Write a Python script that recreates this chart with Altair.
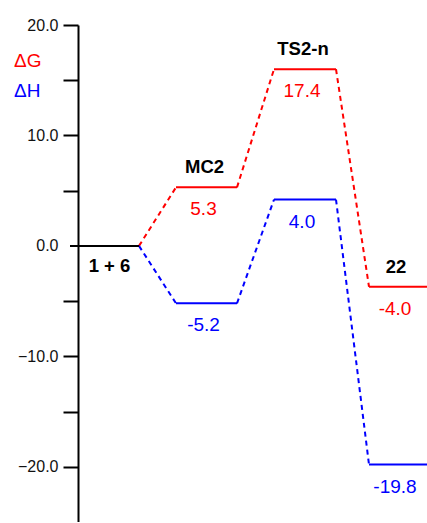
import altair as alt
import pandas as pd

# Reaction-profile data
species = ["1 + 6", "MC2", "TS2-n", "22"]
x_start = [-0.8, 9.8, 19.6, 29.1]     # reaction-coordinate extent of each level
x_end = [6.1, 15.9, 25.8, 34.9]
dG_level = [0.0, 5.3, 16.0, -3.7]     # level heights as drawn
dH_level = [0.0, -5.2, 4.2, -19.8]
dG_text = ["", "5.3", "17.4", "-4.0"]  # printed values
dH_text = ["", "-5.2", "4.0", "-19.8"]
y_ticks = [-20, -15, -10, -5, 0, 5, 10, 15, 20]

RED = "#ff0000"
BLUE = "#0000ff"
FONT = "Liberation Sans"

levels = []
conns = []
labels = []
for name, vals, txt in [("dG", dG_level, dG_text), ("dH", dH_level, dH_text)]:
    for i in range(1, len(species)):
        levels.append({"s": name, "x": x_start[i], "x2": x_end[i], "y": vals[i]})
        labels.append({"s": name, "xc": (x_start[i] + x_end[i]) / 2, "y": vals[i], "t": txt[i]})
    for i in range(len(species) - 1):
        conns.append({"s": name, "x": x_end[i], "x2": x_start[i + 1], "y": vals[i], "y2": vals[i + 1]})
lev = pd.DataFrame(levels)
con = pd.DataFrame(conns)
lab = pd.DataFrame(labels)
ref = pd.DataFrame({"x": [x_start[0]], "x2": [x_end[0]], "y": [dG_level[0]],
                    "xc": [(x_start[0] + x_end[0]) / 2], "t": [species[0]]})
names = pd.DataFrame({"xc": [(x_start[i] + x_end[i]) / 2 for i in range(1, 4)],
                      "y": dG_level[1:], "t": species[1:]})

xs = alt.Scale(domain=[0, 34.9], nice=False, zero=False)
ys = alt.Scale(domain=[-25, 20], nice=False, zero=False)
color = alt.Color("s:N", scale=alt.Scale(domain=["dG", "dH"], range=[RED, BLUE]), legend=None)

yaxis = alt.Axis(
    values=y_ticks,
    labelExpr="datum.value % 10 === 0 ? format(datum.value, '.1f') : ''",
    tickSize=15, tickWidth=2, domainWidth=2, domainColor="black",
    tickColor={"condition": {"test": "datum.value === 0", "value": "transparent"}, "value": "black"},
    labelFontSize=16, labelFont=FONT, labelColor="#111", labelPadding=5,
    grid=False, title=None,
)

X = lambda f: alt.X(f, type="quantitative", scale=xs, axis=None)
Y = lambda f, ax=None: alt.Y(f, type="quantitative", scale=ys, axis=ax)

conn_layer = alt.Chart(con).mark_rule(strokeWidth=2, strokeDash=[5, 4]).encode(
    x=X("x"), x2="x2", y=Y("y", yaxis), y2="y2", color=color)
lev_layer = alt.Chart(lev).mark_rule(strokeWidth=2).encode(
    x=X("x"), x2="x2", y=Y("y"), color=color)
ref_layer = alt.Chart(ref).mark_rule(strokeWidth=2, color="black").encode(
    x=X("x"), x2="x2", y=Y("y"))
val_layer = alt.Chart(lab).mark_text(font=FONT, fontSize=19, baseline="alphabetic", dy=28, dx=-3).encode(
    x=X("xc"), y=Y("y"), text="t:N", color=color)
name_layer = alt.Chart(names).mark_text(font=FONT, fontSize=18.5, fontWeight="bold", baseline="alphabetic",
                                        dy=-14, dx=-2, color="black").encode(
    x=X("xc"), y=Y("y"), text="t:N")
ref_text = alt.Chart(ref).mark_text(font=FONT, fontSize=18.5, fontWeight="bold", baseline="alphabetic",
                                    dy=26, dx=5, color="black").encode(
    x=X("xc"), y=Y("y"), text="t:N")

leg = pd.DataFrame({"t": ["ΔG", "ΔH"], "s": ["dG", "dH"], "row": [0, 1]})
leg_layer = alt.Chart(leg).mark_text(font=FONT, fontSize=19, align="left", baseline="alphabetic").encode(
    x=alt.value(-64),
    y=alt.Y("row:Q", scale=alt.Scale(domain=[0, 1], range=[42, 72]), axis=None),
    text="t:N", color=color)

chart = alt.layer(conn_layer, lev_layer, ref_layer, val_layer, name_layer, ref_text, leg_layer).resolve_scale(
    y="independent"
).properties(
    width=349, height=497,
    padding={"left": 78, "top": 25, "right": 0, "bottom": 0},
    autosize=alt.AutoSizeParams(type="none"),
).configure_view(stroke=None)

chart.save("out.html", embed_options={"renderer": "svg", "actions": False})
